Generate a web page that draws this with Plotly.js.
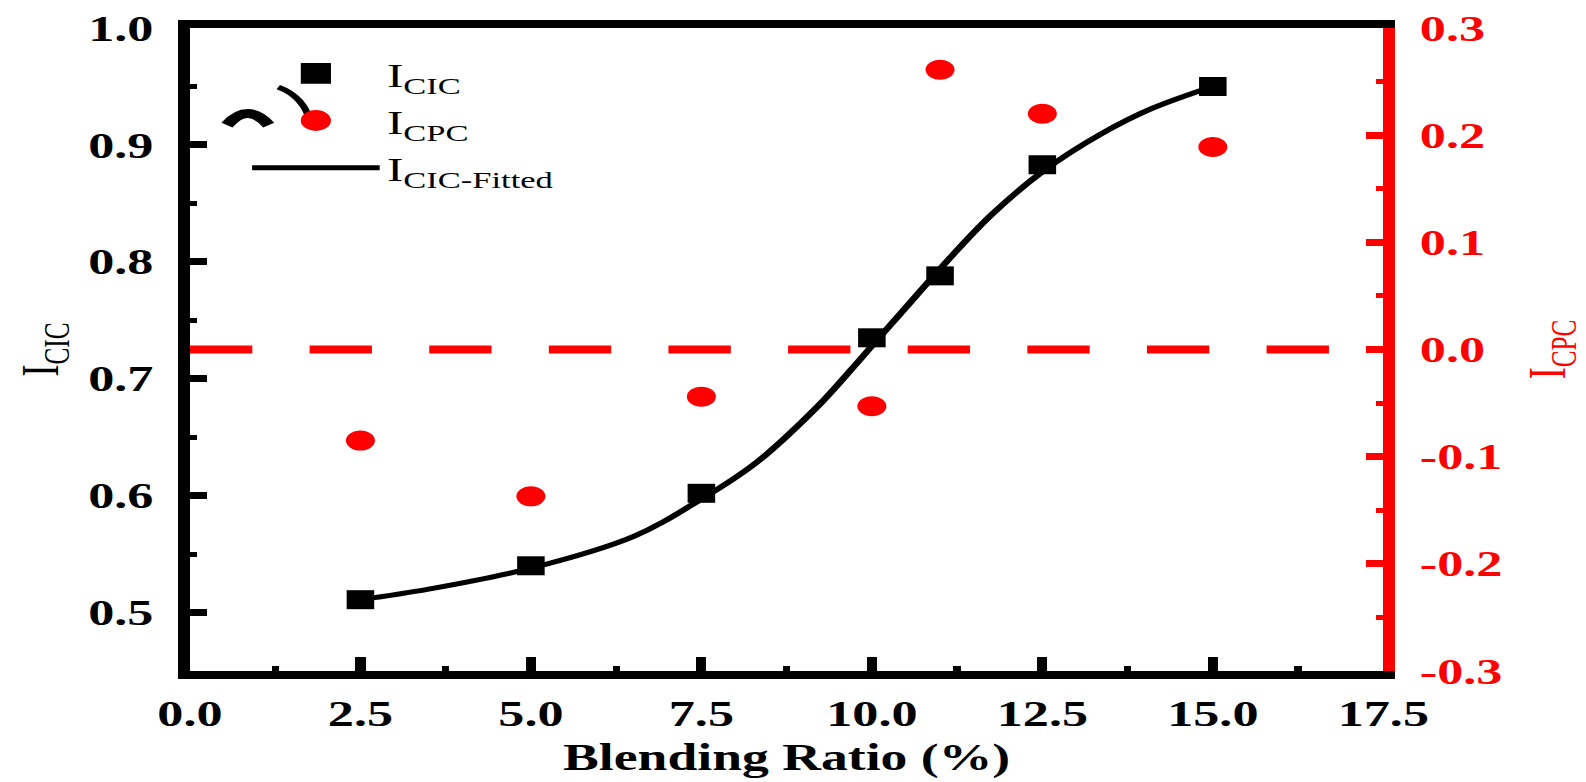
<!DOCTYPE html>
<html>
<head>
<meta charset="utf-8">
<script src="https://cdn.plot.ly/plotly-3.0.1.min.js"></script>
<style>
    html, body { margin: 0; padding: 0; background: #fff; overflow: hidden; }
    /* the source figure is stretched sideways, so draw narrow and widen */
    #chart { width: 1094px; height: 782px; transform: scaleX(1.45); transform-origin: 0 0; }
</style>
</head>
<body>
<div id="chart"></div>
<script>
const blendRatio = [2.5, 5.0, 7.5, 10.0, 11.0, 12.5, 15.0];
const iCIC = [0.511, 0.540, 0.602, 0.735, 0.788, 0.883, 0.950];
const iCPC = [-0.085, -0.137, -0.044, -0.053, 0.261, 0.220, 0.189];

// points
const fitX = [2.5, 3.5, 5.0, 6.5, 7.5, 8.3, 9.2, 9.7, 10.0, 10.5, 11.0, 11.75, 12.5, 13.35, 14.1, 15.0];
const fitY = [0.511, 0.520, 0.538, 0.565, 0.597, 0.628, 0.676, 0.708, 0.728, 0.761, 0.794, 0.840, 0.877, 0.909, 0.931, 0.950];

const zeroX = [0, 17.5];
const zeroY = [0, 0];

const xTicks = [0, 2.5, 5, 7.5, 10, 12.5, 15, 17.5];
const leftTicks = [0.5, 0.6, 0.7, 0.8, 0.9, 1.0];
const rightTicks = [-0.3, -0.2, -0.1, 0.0, 0.1, 0.2, 0.3];
const rightLabels = ['-0.3', '-0.2', '-0.1', '0.0', '0.1', '0.2', '0.3'];

const RED = '#ff0000';
const serif = 'Liberation Serif, Times New Roman, serif';

function drawChart() {
    const traces = [
        {
            x: zeroX, y: zeroY, yaxis: 'y2',
            mode: 'lines',
            line: { color: RED, width: 8, dash: '43px,39.5px' },
            showlegend: false, hoverinfo: 'skip'
        },
        {
            x: fitX, y: fitY,
            mode: 'lines',
            name: 'I<sub>CIC-Fitted</sub>',
            line: { color: '#000', width: 5, shape: 'spline', smoothing: 1 },
            legendrank: 3
        },
        {
            x: blendRatio, y: iCIC,
            mode: 'markers',
            name: 'I<sub>CIC</sub>',
            marker: { symbol: 'square', size: 19, color: '#000' },
            legendrank: 1
        },
        {
            x: blendRatio, y: iCPC, yaxis: 'y2',
            mode: 'markers',
            name: 'I<sub>CPC</sub>',
            marker: { symbol: 'circle', size: 20, color: RED },
            legendrank: 2
        }
    ];

    const tickFont = { family: serif, size: 36, color: '#000', weight: 'bold' };

    const layout = {
        width: 1094,
        height: 782,
        margin: { l: 131, r: 140, t: 28, b: 111 },
        paper_bgcolor: '#fff',
        plot_bgcolor: '#fff',
        showlegend: true,
        legend: {
            x: 0.046, y: 0.974, xanchor: 'left', yanchor: 'top',
            bgcolor: 'rgba(0,0,0,0)',
            font: { family: serif, size: 34, color: '#000' },
            itemwidth: 88,
            tracegroupgap: 0
        },
        xaxis: {
            range: [0, 17.5],
            tickvals: xTicks,
            tickformat: '.1f',
            ticks: 'inside', ticklen: 14, tickwidth: 7, tickcolor: '#000',
            minor: { dtick: 1.25, ticks: 'inside', ticklen: 5, tickwidth: 5, tickcolor: '#000' },
            showline: true, linewidth: 8, linecolor: '#000', mirror: true,
            showgrid: false, zeroline: false,
            tickfont: tickFont,
            ticklabelstandoff: 4,
            title: { text: 'Blending Ratio (%)', font: { family: serif, size: 37, color: '#000', weight: 'bold' }, standoff: 14 }
        },
        yaxis: {
            range: [0.45, 1.0],
            tickvals: leftTicks,
            tickformat: '.1f',
            ticks: 'inside', ticklen: 12, tickwidth: 7, tickcolor: '#000',
            minor: { dtick: 0.05, ticks: 'inside', ticklen: 5, tickwidth: 5, tickcolor: '#000' },
            showline: true, linewidth: 8, linecolor: '#000',
            showgrid: false, zeroline: false,
            tickfont: tickFont,
            ticklabelstandoff: 10,
            title: { text: 'I<sub>CIC</sub>', font: { family: serif, size: 36, color: '#000' }, standoff: 12 }
        },
        yaxis2: {
            overlaying: 'y', side: 'right',
            range: [-0.3, 0.3],
            tickvals: rightTicks,
            ticktext: rightLabels,
            ticks: 'inside', ticklen: 12, tickwidth: 7, tickcolor: RED,
            minor: { dtick: 0.05, ticks: 'inside', ticklen: 5, tickwidth: 5, tickcolor: RED },
            showline: true, linewidth: 8, linecolor: RED,
            showgrid: false, zeroline: false,
            tickfont: { family: serif, size: 36, color: RED, weight: 'bold' },
            ticklabelstandoff: 10,
            title: { text: 'I<sub>CPC</sub>', font: { family: serif, size: 36, color: RED }, standoff: 22 }
        },
        shapes: [
            // stray glyph pieces left over near the legend in the source figure
            { type: 'path', xref: 'paper', yref: 'paper', path: 'M 0.031 0.849 Q 0.0485 0.885 0.066 0.849',
              line: { color: '#000', width: 9 } },
            { type: 'path', xref: 'paper', yref: 'paper', path: 'M 0.074 0.908 Q 0.096 0.893 0.101 0.852',
              line: { color: '#000', width: 5 } }
        ]
    };

    return Plotly.newPlot('chart', traces, layout, { staticPlot: true, displayModeBar: false });
}

drawChart().then(gd => {
    // legend symbols are capped in size by plotly; grow them to match the plot markers
    gd.querySelectorAll('.legend .legendpoints path').forEach(p => {
        const t = p.getAttribute('transform') || '';
        p.setAttribute('transform', t + ' scale(1.3)');
    });
});
</script>
</body>
</html>
